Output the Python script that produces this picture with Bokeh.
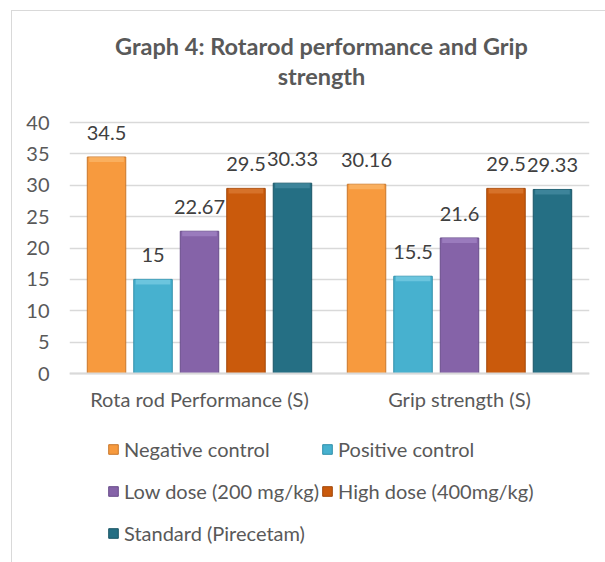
from bokeh.plotting import figure
from bokeh.models import (ColumnDataSource, FactorRange, LabelSet, Legend, LegendItem,
                          Label, FixedTicker, InlineStyleSheet, Span, Range1d)
from bokeh.transform import dodge
from bokeh.core.properties import value
from bokeh.embed import file_html
from bokeh.resources import INLINE

# ---- data ----
categories = ["Rota rod Performance (S)", "Grip strength (S)"]
series_names = ["Negative control", "Positive control", "Low dose (200 mg/kg)",
                "High dose (400mg/kg)", "Standard (Pirecetam)"]
negative_control = [34.5, 30.16]
positive_control = [15, 15.5]
low_dose = [22.67, 21.6]
high_dose = [29.5, 29.5]
standard = [30.33, 29.33]
y_ticks = [0, 5, 10, 15, 20, 25, 30, 35, 40]
y_max = 40
title_lines = ["Graph 4: Rotarod performance and Grip", "strength"]

series_values = [negative_control, positive_control, low_dose, high_dose, standard]
colors = ["#F79A3E", "#47B1CF", "#8563A8", "#CA5A0C", "#256F84"]
caps = ["#FBBE74", "#84D2E8", "#A98CCB", "#DD8240", "#4F93A8"]
edges = ["#C8772C", "#2F8FAA", "#684C8A", "#A2470A", "#1A5566"]

FONT = "Lato"
GRAY = "#595959"

# layout (pixels)
W, H = 605, 562
FRAME_L, FRAME_R = 69, 589
AXIS_TOP, AXIS_ZERO = 122, 373
px_per_unit = (AXIS_ZERO - AXIS_TOP) / y_max
y_top = y_max + AXIS_TOP / px_per_unit
y_bottom = -(H - AXIS_ZERO) / px_per_unit

p = figure(x_range=FactorRange(factors=categories, range_padding=0),
           y_range=Range1d(y_bottom, y_top),
           frame_width=FRAME_R - FRAME_L, frame_height=H,
           min_border_left=FRAME_L, min_border_right=W - FRAME_R,
           min_border_top=0, min_border_bottom=0,
           output_backend="svg", toolbar_location=None)
p.outline_line_color = None
p.background_fill_color = "white"
p.border_fill_color = "white"

# chart border (left and top edges of the chart area)
p.stylesheets = [InlineStyleSheet(css=(
    ":host::after { content: ''; position: absolute; left: 11px; top: 10px; "
    "right: 0; bottom: 0; border-left: 1.5px solid #D9D9D9; "
    "border-top: 1.5px solid #D9D9D9; pointer-events: none; }"))]

# y axis
p.yaxis.ticker = FixedTicker(ticks=y_ticks)
p.yaxis.axis_line_color = None
p.yaxis.major_tick_line_color = None
p.yaxis.minor_tick_line_color = None
p.yaxis.major_tick_out = 0
p.yaxis.major_tick_in = 0
p.yaxis.major_label_standoff = 20
p.yaxis.major_label_text_font = FONT
p.yaxis.major_label_text_font_size = "20px"
p.yaxis.major_label_text_color = GRAY

# x axis drawn by hand inside the frame
p.xaxis.visible = False
p.xgrid.grid_line_color = None
p.ygrid.ticker = FixedTicker(ticks=y_ticks)
p.ygrid.grid_line_color = "#D9D9D9"
p.ygrid.grid_line_width = 1.3
p.add_layout(Span(location=0, dimension="width", line_color="#D9D9D9", line_width=2))

cat_src = ColumnDataSource(dict(cat=categories, y=[0] * len(categories)))
p.add_layout(LabelSet(x="cat", y="y", text="cat", source=cat_src, y_offset=-25,
                      text_align="center", text_baseline="middle",
                      text_font=value(FONT), text_font_size=value("20px"),
                      text_color=GRAY))

step = 0.1788
bar_w = 0.148
cap_units = 5 / px_per_unit
items = []
for i, (name, vals, col, cap, edge) in enumerate(zip(series_names, series_values, colors, caps, edges)):
    src = ColumnDataSource(dict(cat=categories, val=vals,
                                cap_bottom=[v - cap_units for v in vals],
                                lab=[f"{v:g}" for v in vals]))
    xs = dodge("cat", (i - 2) * step, range=p.x_range)
    r = p.vbar(x=xs, top="val", width=bar_w, source=src,
               fill_color=col, line_color=edge, line_width=1)
    p.vbar(x=xs, top="val", bottom="cap_bottom", width=bar_w * 0.9, source=src,
           fill_color=cap, line_color=None, fill_alpha=0.6)
    labels = LabelSet(x=xs, y="val", text="lab", source=src,
                      y_offset=24, text_align="center", text_baseline="middle",
                      text_font=value(FONT), text_font_size=value("20px"),
                      text_color="#404040")
    p.add_layout(labels)
    items.append(LegendItem(label=name, renderers=[r]))

legend = Legend(items=items, orientation="horizontal", ncols=2,
                location=(38, 9), glyph_width=12, glyph_height=12,
                label_standoff=5, label_height=40, spacing=2, padding=0, margin=0,
                border_line_color=None, background_fill_alpha=0,
                label_text_font=FONT, label_text_font_size="20px",
                label_text_color=GRAY)
p.add_layout(legend, "center")

# title (two lines)
for txt, off in zip(title_lines, [77, 47]):
    p.add_layout(Label(x=1.0, y=y_max, text=txt, x_offset=-8, y_offset=off,
                       text_align="center", text_baseline="middle",
                       text_font=FONT, text_font_size="23.5px", text_font_style="bold",
                       text_color=GRAY))

open("out.html", "w").write(file_html(p, INLINE))
